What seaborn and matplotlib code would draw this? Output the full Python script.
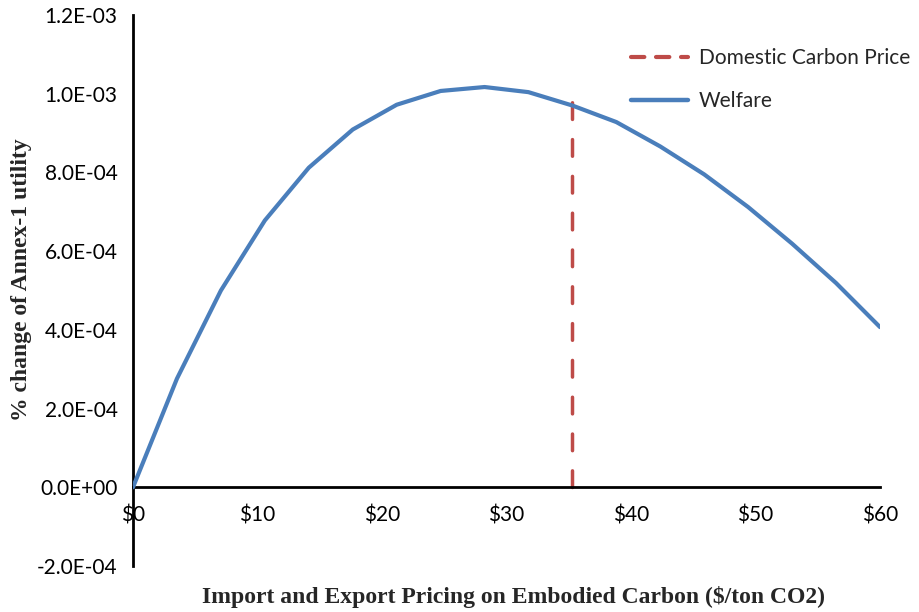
import matplotlib
matplotlib.use("Agg")
import matplotlib.pyplot as plt
from matplotlib.lines import Line2D
from matplotlib.ticker import FuncFormatter, FixedLocator
import numpy as np
import pandas as pd
import seaborn as sns

# Border-adjustment carbon price ($/ton CO2) and resulting welfare change
carbon_price = [0.0, 3.53, 7.06, 10.59, 14.12, 17.65, 21.18, 24.71, 28.24,
                31.76, 35.29, 38.82, 42.35, 45.88, 49.41, 52.94, 56.47, 60.0]
welfare = [0.0, 2.76e-4, 5.00e-4, 6.78e-4, 8.12e-4, 9.09e-4, 9.72e-4, 1.007e-3,
           1.017e-3, 1.004e-3, 9.70e-4, 9.28e-4, 8.66e-4, 7.95e-4, 7.12e-4,
           6.19e-4, 5.19e-4, 4.07e-4]

# Domestic carbon price marker (vertical segment)
domestic_x = [35.29, 35.29]
domestic_y = [0.0, 1.02e-3]

x_ticks = [0, 10, 20, 30, 40, 50, 60]
x_tick_labels = ["\\$0", "\\$10", "\\$20", "\\$30", "\\$40", "\\$50", "\\$60"]
y_ticks = [-2e-4, 0.0, 2e-4, 4e-4, 6e-4, 8e-4, 1.0e-3, 1.2e-3]

series_labels = ["Domestic Carbon Price", "Welfare"]
x_label = "Import and Export Pricing on Embodied Carbon (\\$/ton CO2)"
y_label = "% change of Annex-1 utility"

BLUE = "#4A7EBB"
RED = "#BE4B48"

sns.set_style("white")
plt.rcParams["font.family"] = ["Lato", "DejaVu Sans"]

fig = plt.figure(figsize=(9.2, 6.12), dpi=100)
ax = fig.add_axes([133 / 920, 1 - 566 / 612, (880 - 133) / 920, (566 - 15) / 612])

welfare_df = pd.DataFrame({"price": carbon_price, "welfare": welfare})
domestic_df = pd.DataFrame({"price": domestic_x, "welfare": domestic_y})

sns.lineplot(data=domestic_df, x="price", y="welfare", estimator=None, sort=False,
             color=RED, linewidth=2.5, ax=ax, zorder=2)
ax.lines[-1].set_dashes([4.8, 5.8])
ax.lines[-1].set_dash_capstyle("round")

sns.lineplot(data=welfare_df, x="price", y="welfare", estimator=None, sort=False,
             color=BLUE, linewidth=3.0, ax=ax, zorder=3)
ax.lines[-1].set_solid_joinstyle("round")

ax.set_xlim(0, 60)
ax.set_ylim(-2e-4, 1.2e-3)

for side in ("top", "right"):
    ax.spines[side].set_visible(False)
for side in ("left", "bottom"):
    ax.spines[side].set_color("black")
    ax.spines[side].set_linewidth(2.0)
ax.spines["bottom"].set_position(("data", 0))

ax.xaxis.set_major_locator(FixedLocator(x_ticks))
ax.set_xticklabels(x_tick_labels)
ax.yaxis.set_major_locator(FixedLocator(y_ticks))
ax.yaxis.set_major_formatter(FuncFormatter(lambda v, p: f"{v:.1E}"))

ax.tick_params(axis="both", direction="out", length=5, width=1.6, color="black",
               labelsize=15, labelcolor="black")
ax.tick_params(axis="y", pad=6)
ax.tick_params(axis="x", pad=8)
ax.grid(False)

ax.set_xlabel(x_label, family="Liberation Serif", fontweight="bold", fontsize=17)
ax.xaxis.set_label_coords(0.509, -0.037)
ax.set_ylabel(y_label, family="Liberation Serif", fontweight="bold", fontsize=17)
ax.yaxis.set_label_coords(-0.135, 0.52)

handles = [
    Line2D([], [], color=RED, linewidth=3, dashes=[3.2, 2.8], dash_capstyle="round"),
    Line2D([], [], color=BLUE, linewidth=3.2, solid_capstyle="round"),
]
fig.legend(handles, series_labels, loc="upper left",
           bbox_to_anchor=(631 / 920, 1 - 48 / 612), frameon=False,
           fontsize=15, handlelength=2.75, handletextpad=0.5,
           labelspacing=1.1, borderpad=0, borderaxespad=0)

fig.savefig("out.png", dpi=100, facecolor="white")
